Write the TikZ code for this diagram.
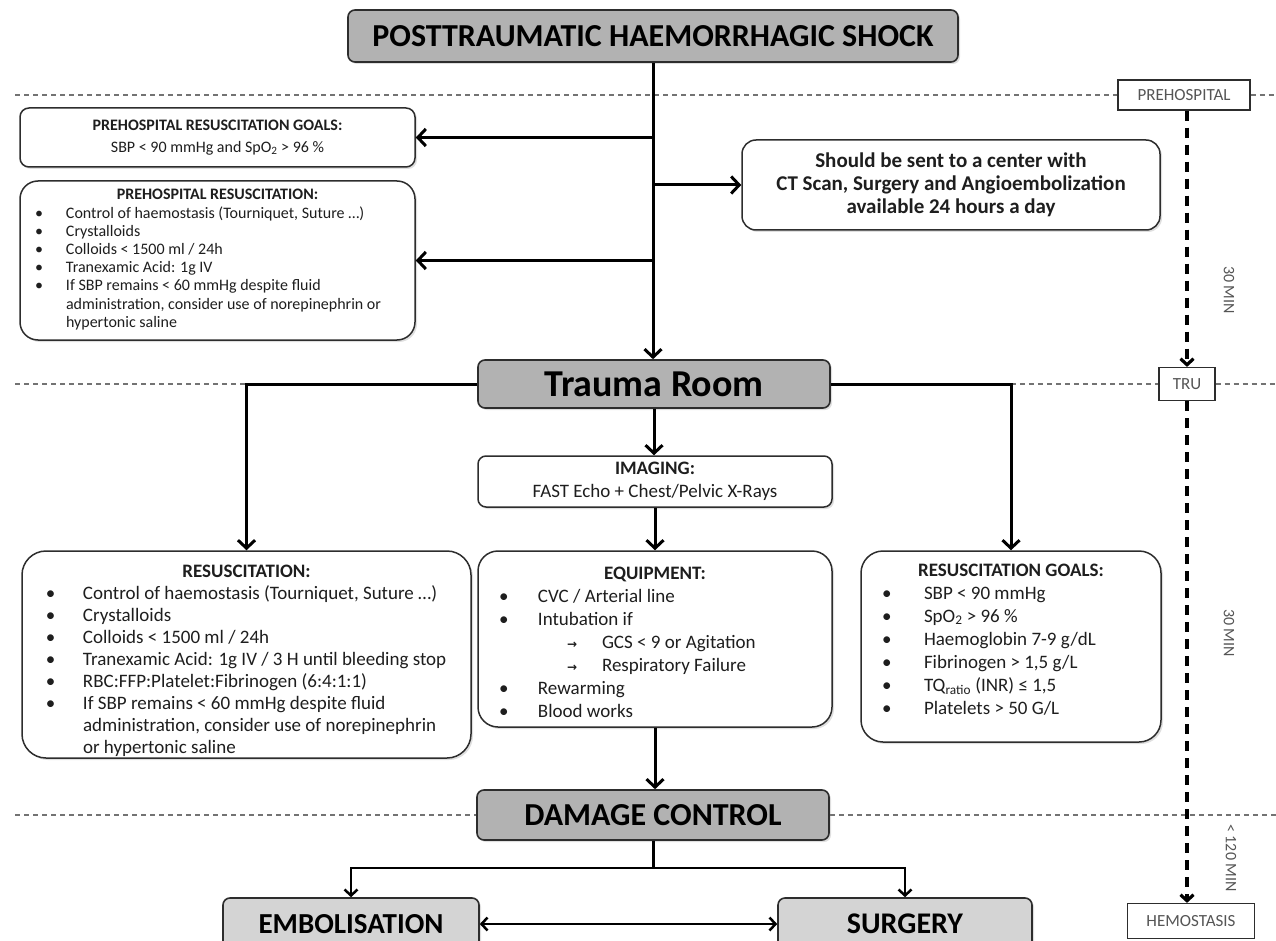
\documentclass[tikz,border=0pt]{standalone}
\usepackage{fontspec}
\setmainfont{Carlito}
\newfontfamily\arrowfont{DejaVu Sans}
\usetikzlibrary{arrows.meta,shadows,backgrounds}

\definecolor{stagefill}{RGB}{178,178,178}
\definecolor{branchfill}{RGB}{212,212,212}
\definecolor{frame}{RGB}{45,45,45}
\definecolor{sepline}{RGB}{115,115,115}
\definecolor{tagtext}{RGB}{85,85,85}
\definecolor{bodytext}{RGB}{30,30,30}

% centred bold heading; #1 sets the height of the first line
\newcommand\boxhead[2]{\makebox[\linewidth][c]{\rule{0pt}{#1}\bfseries #2}\par}
% bullet line: #1 bullet offset, #2 text offset, #3 text
\newcommand\bul[3]{\hangindent=#2\hangafter=1\noindent\makebox[#2][l]{\hspace*{#1}\textbullet}#3\par}
% arrow sub-line: #1 arrow offset, #2 text offset, #3 text
\newcommand\arr[3]{\noindent\makebox[#2][l]{\hspace*{#1}{\arrowfont\bfseries\fontsize{12}{14}\selectfont →}}#3\par}
% fixed-size panel body with top-aligned content
\newcommand\listbox[3]{\parbox[c][#2][t]{#1}{\raggedright\parindent=0pt #3}}

\begin{document}
\begin{tikzpicture}[x=1pt,y=-1pt,
  shade/.style={drop shadow={shadow xshift=2pt,shadow yshift=-2pt,opacity=0.25}},
  stage/.style={draw=frame, line width=1.6pt, fill=stagefill, rounded corners=7pt,
    inner sep=0pt, shade, text=black},
  branch/.style={stage, fill=branchfill},
  panel/.style={draw=frame, line width=1.5pt, fill=white, inner sep=0pt, shade, text=bodytext},
  tag/.style={draw=frame, line width=1.2pt, fill=white, inner sep=0pt, text=tagtext,
    font=\fontsize{17}{20}\selectfont},
  sep/.style={draw=sepline, line width=1.5pt, dash pattern=on 5pt off 4pt},
  flow/.style={draw=black, line width=3pt, -{Straight Barb[length=8pt,width=17pt]}},
  flowplain/.style={draw=black, line width=3pt},
  branchflow/.style={draw=black, line width=2.5pt, -{Straight Barb[length=6pt,width=13pt]}},
  timeline/.style={draw=black, line width=3.2pt, dash pattern=on 10pt off 7pt,
    -{Straight Barb[length=6pt,width=13pt]}},
  span/.style={font=\fontsize{16}{18}\selectfont, text=tagtext, rotate=-90}
]
\useasboundingbox (0,0) rectangle (1276,941);

% ---- stage boxes ----
\node[stage, minimum width=610pt, minimum height=52pt,
  font=\bfseries\fontsize{32}{36}\selectfont] (shock) at (653,36) {POSTTRAUMATIC HAEMORRHAGIC SHOCK};
\node[stage, minimum width=352pt, minimum height=48pt,
  font=\bfseries\fontsize{38}{40}\selectfont] (trauma) at (654,384) {Trauma Room};
\node[stage, minimum width=352pt, minimum height=50pt,
  font=\bfseries\fontsize{32}{36}\selectfont] (damage) at (653,815) {DAMAGE CONTROL};
\node[branch, minimum width=256pt, minimum height=52pt,
  font=\bfseries\fontsize{29}{32}\selectfont] (emb) at (351,924) {EMBOLISATION};
\node[branch, minimum width=254pt, minimum height=52pt,
  font=\bfseries\fontsize{30}{32}\selectfont] (surg) at (905,924) {SURGERY};

% ---- prehospital panels ----
\node[panel, rounded corners=9pt, minimum width=395pt, minimum height=59pt, align=center,
  font=\fontsize{16}{22}\selectfont] (pregoals) at (217.5,137.5)
  {\textbf{PREHOSPITAL RESUSCITATION GOALS:}\\SBP < 90 mmHg and SpO\textsubscript{2} > 96 \%};

\node[panel, rounded corners=18pt] (prehosp) at (217.5,260.5) {\fontsize{16}{18.2}\selectfont%
  \listbox{395pt}{159pt}{%
  \boxhead{19pt}{PREHOSPITAL RESUSCITATION:}
  \bul{15pt}{46pt}{Control of haemostasis (Tourniquet, Suture …)}
  \bul{15pt}{46pt}{Crystalloids}
  \bul{15pt}{46pt}{Colloids < 1500 ml / 24h}
  \bul{15pt}{46pt}{Tranexamic Acid: 1g IV}
  \bul{15pt}{46pt}{If SBP remains < 60 mmHg despite fluid\newline administration, consider use of norepinephrin or\newline hypertonic saline}}};

\node[panel, rounded corners=14pt, minimum width=418pt, minimum height=90pt, align=center,
  font=\bfseries\fontsize{21}{23}\selectfont] (center) at (951,185)
  {Should be sent to a center with\\CT Scan, Surgery and Angioembolization\\available 24 hours a day};

% ---- trauma room panels ----
\node[panel, rounded corners=8pt, minimum width=354pt, minimum height=51pt, align=center,
  font=\fontsize{19}{23}\selectfont] (imaging) at (655,481.5)
  {\textbf{IMAGING:}\\FAST Echo + Chest/Pelvic X-Rays};

\node[panel, rounded corners=24pt] (resus) at (246.5,654.5) {\fontsize{19}{22.1}\selectfont%
  \listbox{449pt}{207pt}{%
  \boxhead{26pt}{RESUSCITATION:}
  \bul{24pt}{61pt}{Control of haemostasis (Tourniquet, Suture …)}
  \bul{24pt}{61pt}{Crystalloids}
  \bul{24pt}{61pt}{Colloids < 1500 ml / 24h}
  \bul{24pt}{61pt}{Tranexamic Acid: 1g IV / 3 H until bleeding stop}
  \bul{24pt}{61pt}{RBC:FFP:Platelet:Fibrinogen (6:4:1:1)}
  \bul{24pt}{61pt}{If SBP remains < 60 mmHg despite fluid\newline administration, consider use of norepinephrin\newline or hypertonic saline}}};

\node[panel, rounded corners=20pt] (equip) at (655,639) {\fontsize{19}{23}\selectfont%
  \listbox{354pt}{176pt}{%
  \boxhead{28pt}{EQUIPMENT:}
  \bul{21pt}{60pt}{CVC / Arterial line}
  \bul{21pt}{60pt}{Intubation if}
  \arr{89pt}{124pt}{GCS < 9 or Agitation}
  \arr{89pt}{124pt}{Respiratory Failure}
  \bul{21pt}{60pt}{Rewarming}
  \bul{21pt}{60pt}{Blood works}}};

\node[panel, rounded corners=22pt] (goals) at (1011,646.5) {\fontsize{19}{23}\selectfont%
  \listbox{300pt}{191pt}{%
  \boxhead{25pt}{RESUSCITATION GOALS:}
  \bul{21pt}{63pt}{SBP < 90 mmHg}
  \bul{21pt}{63pt}{SpO\textsubscript{2} > 96 \%}
  \bul{21pt}{63pt}{Haemoglobin 7-9 g/dL}
  \bul{21pt}{63pt}{Fibrinogen > 1,5 g/L}
  \bul{21pt}{63pt}{TQ\textsubscript{ratio} (INR) ≤ 1,5}
  \bul{21pt}{63pt}{Platelets > 50 G/L}}};

% ---- time line tags ----
\node[tag, minimum width=132pt, minimum height=30pt] (tprehosp) at (1184,95) {PREHOSPITAL};
\node[tag, minimum width=56pt, minimum height=33pt] (ttru) at (1187,384) {TRU};
\node[tag, minimum width=127pt, minimum height=35pt] (themo) at (1191,921) {HEMOSTASIS};

\node[span] (span1) at (1229,290) {30 MIN};
\node[span] (span2) at (1229,633) {30 MIN};
\node[span] (span3) at (1231,858) {< 120 MIN};

% ---- phase separators ----
\begin{pgfonlayer}{background}
  \draw[sep] (15,95) -- (tprehosp.west);
  \draw[sep] (tprehosp.east) -- (1276,95);
  \draw[sep] (15,384) -- (trauma.west);
  \draw[sep] (trauma.east) -- (ttru.west);
  \draw[sep] (ttru.east) -- (1276,384);
  \draw[sep] (15,815) -- (damage.west);
  \draw[sep] (damage.east) -- (1276,815);
\end{pgfonlayer}

% ---- time line ----
\draw[timeline] (tprehosp.south -| ttru.north) -- (ttru.north);
\draw[timeline] (ttru.south) -- (ttru.south |- themo.north);

% ---- flow ----
\draw[flow] (shock.south) -- (shock.south |- trauma.north);
\draw[flow] (shock.south |- pregoals.east) -- (pregoals.east);
\draw[flow] (shock.south |- prehosp.east) -- (prehosp.east);
\draw[flow] (shock.south |- center.west) -- (center.west);
\draw[flow] (trauma.west) -| (resus.north);
\draw[flow] (trauma.east) -| (goals.north);
\draw[flow] (trauma.south) -- (trauma.south |- imaging.north);
\draw[flow] (imaging.south) -- (imaging.south |- equip.north);
\draw[flow] (equip.south) -- (equip.south |- damage.north);
\coordinate (fork) at (653,868);
\draw[flowplain] (damage.south) -- (fork);
\draw[branchflow] (fork) -| (emb.north);
\draw[branchflow] (fork) -| (surg.north);
\draw[branchflow, {Straight Barb[length=6pt,width=13pt]}-{Straight Barb[length=6pt,width=13pt]}] (emb.east) -- (surg.west);
\end{tikzpicture}
\end{document}
